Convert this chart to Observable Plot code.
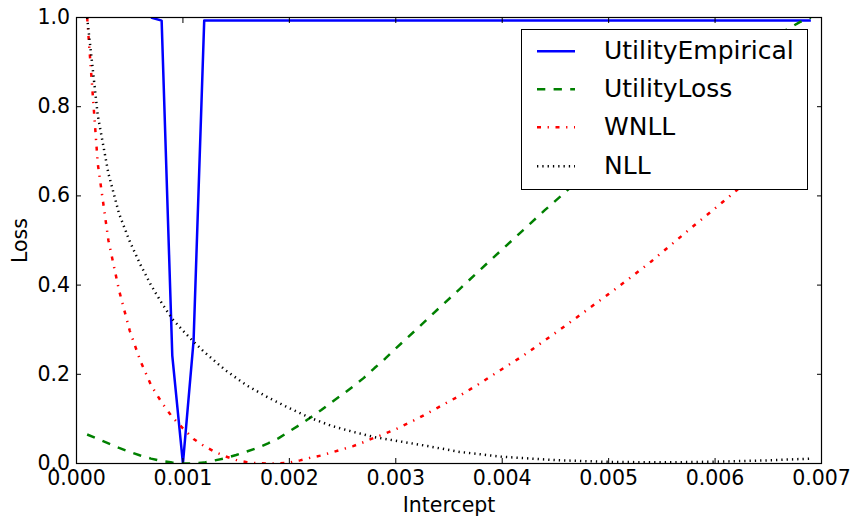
<!DOCTYPE html>
<html>
<head>
<meta charset="utf-8">
<script src="https://cdn.jsdelivr.net/npm/d3@7"></script>
<script src="https://cdn.jsdelivr.net/npm/@observablehq/plot@0.6"></script>
<style>
  body { margin: 0; background: #fff; }
  #wrap { position: relative; width: 853px; height: 518px; font-family: "DejaVu Sans", sans-serif; }
  #legend { position: absolute; left: 521px; top: 29px; width: 287px; height: 161px; box-sizing: border-box;
            border: 1.2px solid #000; background: #fff; }
  .row { position: absolute; left: 0; height: 38.4px; width: 100%; }
  .row svg { position: absolute; left: 15px; top: 0; }
  .row span { position: absolute; left: 82px; top: 0; line-height: 38.4px; font-size: 25px; color: #000; white-space: nowrap; }
</style>
</head>
<body>
<div id="wrap"><div id="chart"></div><div id="legend"></div></div>
<script>
// ---- data ----
const xTicks = [0, 0.001, 0.002, 0.003, 0.004, 0.005, 0.006, 0.007];
const yTicks = [0, 0.2, 0.4, 0.6, 0.8, 1.0];

const seriesNames = ["UtilityEmpirical", "UtilityLoss", "WNLL", "NLL"];

const empX = [0.0007, 0.0008, 0.0009, 0.0010, 0.0011, 0.0012, 0.0069];
const empY = [1.0, 0.993, 0.242, 0.0, 0.275, 0.993, 0.993];

const ulX = [0.0001, 0.0002, 0.0003, 0.0004, 0.0005, 0.0006, 0.0007, 0.0008, 0.0009, 0.0010,
             0.0011, 0.0012, 0.0013, 0.0014, 0.0015, 0.0016, 0.0017, 0.0018, 0.0019, 0.0020,
             0.0021, 0.0022, 0.0023, 0.0024, 0.0025, 0.0026, 0.0027, 0.0028, 0.0029, 0.0030,
             0.0032, 0.0034, 0.0036, 0.0038, 0.0040, 0.0042, 0.0044, 0.0046, 0.0048, 0.0050,
             0.0052, 0.0054, 0.0056, 0.0058, 0.0060, 0.0062, 0.0064, 0.0066, 0.0068, 0.0069];
const ulY = [0.065, 0.055, 0.045, 0.035, 0.026, 0.018, 0.011, 0.0055, 0.002, 0.0,
             0.0003, 0.002, 0.007, 0.012, 0.019, 0.027, 0.035, 0.045, 0.057, 0.072,
             0.087, 0.103, 0.120, 0.138, 0.155, 0.173, 0.192, 0.214, 0.235, 0.258,
             0.302, 0.347, 0.391, 0.436, 0.480, 0.524, 0.568, 0.610, 0.653, 0.695,
             0.734, 0.772, 0.808, 0.842, 0.875, 0.906, 0.936, 0.963, 0.990, 1.0];

const wnllX = [0.0001, 0.0002, 0.0003, 0.0004, 0.0005, 0.0006, 0.0007, 0.0008, 0.0009, 0.0010,
               0.0011, 0.0012, 0.0013, 0.0014, 0.0015, 0.0016, 0.0017, 0.0018, 0.0019, 0.0020,
               0.0021, 0.0022, 0.0023, 0.0024, 0.0025, 0.0026, 0.0027, 0.0028, 0.0029, 0.0030,
               0.0032, 0.0034, 0.0036, 0.0038, 0.0040, 0.0042, 0.0044, 0.0046, 0.0048, 0.0050,
               0.0052, 0.0054, 0.0056, 0.0058, 0.0060, 0.0062, 0.0064, 0.0066, 0.0068];
const wnllY = [1.0, 0.672, 0.500, 0.388, 0.298, 0.230, 0.176, 0.137, 0.104, 0.079,
               0.055, 0.039, 0.026, 0.016, 0.008, 0.003, 0.0005, 0.0, 0.0003, 0.002,
               0.007, 0.013, 0.018, 0.025, 0.032, 0.039, 0.048, 0.058, 0.067, 0.077,
               0.100, 0.126, 0.152, 0.181, 0.212, 0.242, 0.276, 0.310, 0.345, 0.380,
               0.416, 0.453, 0.493, 0.533, 0.572, 0.612, 0.656, 0.700, 0.746];

const nllX = [0.0001, 0.0002, 0.0003, 0.0004, 0.0005, 0.0006, 0.0007, 0.0008, 0.0009, 0.0010,
              0.0011, 0.0012, 0.0014, 0.0016, 0.0018, 0.0020, 0.0022, 0.0024, 0.0026, 0.0028,
              0.0030, 0.0033, 0.0036, 0.0040, 0.0045, 0.0050, 0.0055, 0.0060, 0.0065, 0.0069];
const nllY = [1.0, 0.780, 0.650, 0.560, 0.498, 0.446, 0.400, 0.360, 0.324, 0.298,
              0.273, 0.250, 0.209, 0.175, 0.148, 0.124, 0.102, 0.084, 0.071, 0.059,
              0.051, 0.039, 0.026, 0.015, 0.0075, 0.0036, 0.0025, 0.004, 0.007, 0.011];

// ---- styles ----
const colors = ["#0000ff", "#008000", "#ff0000", "#000000"];
const dashes = [null, "8.3,8.3", "4,6.6,1.3,6.6", "1.3,4"];
const lw = 2.5;

const xs = [empX, ulX, wnllX, nllX];
const ys = [empY, ulY, wnllY, nllY];
const tables = xs.map((X, i) => X.map((x, j) => ({x, y: ys[i][j]})));

const lineMarks = tables.map((t, i) =>
  Plot.line(t, {x: "x", y: "y", stroke: colors[i], strokeWidth: lw,
                strokeDasharray: dashes[i], strokeLinecap: "butt", strokeLinejoin: "round", clip: true}));

const chart = Plot.plot({
  width: 853, height: 518,
  marginLeft: 76, marginRight: 32, marginTop: 17, marginBottom: 55,
  style: {fontFamily: "'DejaVu Sans', sans-serif", fontSize: "20.5px", color: "#000", background: "#fff"},
  x: {domain: [0, 0.007]},
  y: {domain: [0, 1]},
  marks: [
    ...lineMarks,
    Plot.frame({stroke: "#000", strokeWidth: 1.2}),
    Plot.axisX(xTicks, {anchor: "bottom", tickSize: 0, tickPadding: 7, tickFormat: d3.format(".3f"),
                        label: "Intercept", labelAnchor: "center", labelArrow: "none", labelOffset: 48}),
    Plot.axisY(yTicks, {anchor: "left", tickSize: 0, tickPadding: 6.5, tickFormat: d3.format(".1f"),
                        label: "Loss", labelAnchor: "center", labelArrow: "none", labelOffset: 64}),
    Plot.axisX(xTicks, {anchor: "bottom", tickSize: 5, dy: -5, fill: "none"}),
    Plot.axisX(xTicks, {anchor: "top", tickSize: 5, dy: 5, fill: "none"}),
    Plot.axisY(yTicks, {anchor: "left", tickSize: 5, dx: 5, fill: "none"}),
    Plot.axisY(yTicks, {anchor: "right", tickSize: 5, dx: -5, fill: "none"})
  ]
});
document.getElementById("chart").appendChild(chart);

// ---- legend ----
const legend = document.getElementById("legend");
seriesNames.forEach((name, i) => {
  const row = document.createElement("div");
  row.className = "row";
  row.style.top = (1.5 + i * 38.4) + "px";
  const svgNS = "http://www.w3.org/2000/svg";
  const svg = document.createElementNS(svgNS, "svg");
  svg.setAttribute("width", 40); svg.setAttribute("height", 38.4);
  const ln = document.createElementNS(svgNS, "line");
  ln.setAttribute("x1", 0); ln.setAttribute("x2", 38);
  ln.setAttribute("y1", 19.2); ln.setAttribute("y2", 19.2);
  ln.setAttribute("stroke", colors[i]); ln.setAttribute("stroke-width", lw);
  if (dashes[i]) ln.setAttribute("stroke-dasharray", dashes[i]);
  svg.appendChild(ln);
  const sp = document.createElement("span");
  sp.textContent = name;
  row.appendChild(svg); row.appendChild(sp);
  legend.appendChild(row);
});
</script>
</body>
</html>
